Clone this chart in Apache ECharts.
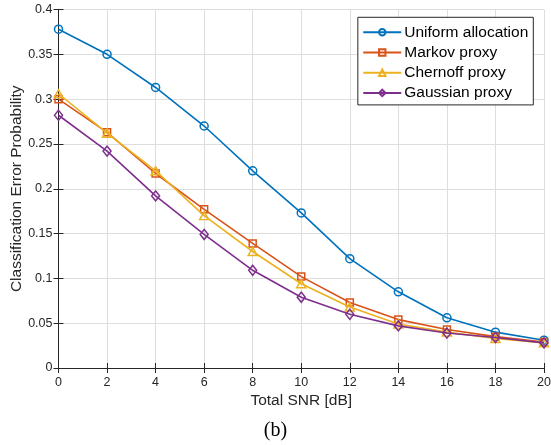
<!DOCTYPE html>
<html><head><meta charset="utf-8">
<script src="https://cdn.jsdelivr.net/npm/echarts@6/dist/echarts.min.js"></script>
<style>html,body{margin:0;padding:0;background:#fff}#c{width:551px;height:445px}</style>
</head><body><div id="c"></div>
<script>
const snr = [0,2,4,6,8,10,12,14,16,18,20];
const uniform = [0.378,0.350,0.313,0.270,0.220,0.173,0.122,0.085,0.056,0.040,0.031];
const markov = [0.300,0.263,0.217,0.177,0.139,0.102,0.073,0.054,0.043,0.035,0.029];
const chernoff = [0.306,0.262,0.220,0.170,0.130,0.094,0.068,0.049,0.040,0.033,0.028];
const gaussian = [0.282,0.242,0.192,0.149,0.109,0.079,0.060,0.047,0.039,0.034,0.028];
const names = ['Uniform allocation','Markov proxy','Chernoff proxy','Gaussian proxy'];
const colors = ['#0072BD','#D95319','#EDB120','#7E2F8E'];
const symbols = ['circle','rect','triangle','diamond'];
const sizes = [8,7,[9,8],[8,10]];
const font = 'Liberation Sans, Arial, sans-serif';
const axisCol = '#262626';
const chart = echarts.init(document.getElementById('c'));
const mk = (name, data, i) => ({
  name, type:'line', data: snr.map((x,j)=>[x,data[j]]),
  symbol: symbols[i], symbolSize: sizes[i], showSymbol:true,
  lineStyle:{color:colors[i], width:1.6},
  itemStyle:{color:'rgba(255,255,255,0)', borderColor:colors[i], borderWidth:1.5},
  xAxisIndex:0, yAxisIndex:0, z: 2 + i
});
chart.setOption({
  animation:false,
  backgroundColor:'#fff',
  grid:{left:58.5, right:7, top:9.5, bottom:77, containLabel:false, outerBoundsMode:'none'},
  legend:{
    orient:'vertical', right:17.7, top:17.3,
    backgroundColor:'#fff', borderColor:axisCol, borderWidth:1,
    padding:[7,5,4,4.4], itemGap:4.2, itemWidth:38, itemHeight:8,
    textStyle:{fontFamily:font, fontSize:15.5, lineHeight:16, color:'#000', padding:[0,0,0,-2]},
    data: names
  },
  xAxis:[
    {type:'value', min:0, max:20, interval:2, position:'bottom',
     axisLine:{show:true, lineStyle:{color:axisCol}},
     axisTick:{show:true, inside:true, length:5, lineStyle:{color:axisCol}},
     axisLabel:{fontFamily:font, fontSize:12.5, color:axisCol, margin:8},
     splitLine:{show:true, lineStyle:{color:'#dedede', width:1}},
     name:'Total SNR [dB]', nameLocation:'middle', nameGap:25, nameMoveOverlap:false,
     nameTextStyle:{fontFamily:font, fontSize:15.5, color:axisCol}},
    {type:'value', min:0, max:20, interval:2, position:'top',
     axisLine:{show:true, lineStyle:{color:axisCol}},
     axisTick:{show:true, inside:true, length:5, lineStyle:{color:axisCol}},
     axisLabel:{show:false}, splitLine:{show:false}}
  ],
  yAxis:[
    {type:'value', min:0, max:0.4, interval:0.05, position:'left',
     axisLine:{show:true, lineStyle:{color:axisCol}},
     axisTick:{show:true, inside:true, length:5, lineStyle:{color:axisCol}},
     axisLabel:{fontFamily:font, fontSize:12.5, color:axisCol, margin:6,
       formatter:v=>String(+v.toFixed(2))},
     splitLine:{show:true, lineStyle:{color:'#dedede', width:1}},
     name:'Classification Error Probability', nameLocation:'middle', nameGap:34, nameMoveOverlap:false,
     nameTextStyle:{fontFamily:font, fontSize:15.5, color:axisCol}},
    {type:'value', min:0, max:0.4, interval:0.05, position:'right',
     axisLine:{show:true, lineStyle:{color:axisCol}},
     axisTick:{show:true, inside:true, length:5, lineStyle:{color:axisCol}},
     axisLabel:{show:false}, splitLine:{show:false}}
  ],
  graphic:[{type:'text', left:'center', top:421,
    style:{text:'(b)', font:'20px "Liberation Serif", "Times New Roman", serif', fill:'#000'}}],
  series:[mk(names[0],uniform,0), mk(names[1],markov,1), mk(names[2],chernoff,2), mk(names[3],gaussian,3)]
});
</script></body></html>
